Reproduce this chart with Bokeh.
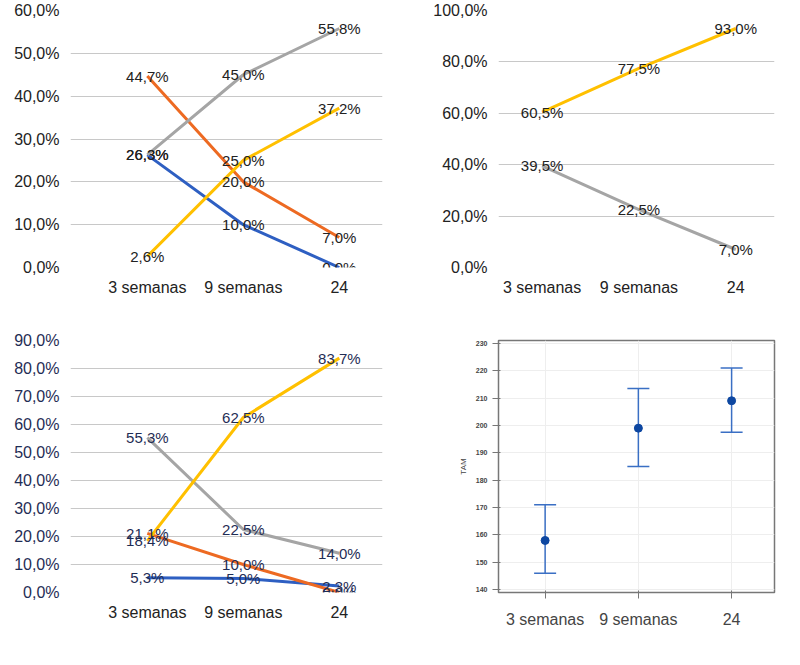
from bokeh.plotting import figure
from bokeh.layouts import gridplot
from bokeh.models import Range1d, FixedTicker, NumeralTickFormatter, Label, Whisker, ColumnDataSource, TeeHead
from bokeh.embed import file_html
from bokeh.resources import INLINE
from bokeh.core.properties import value

cats = ["3 semanas", "9 semanas", "24"]
a_blue = [26.3, 10.0, 0.0]
a_orange = [44.7, 20.0, 7.0]
a_gray = [26.3, 45.0, 55.8]
a_yellow = [2.6, 25.0, 37.2]
b_yellow = [60.5, 77.5, 93.0]
b_gray = [39.5, 22.5, 7.0]
c_blue = [5.3, 5.0, 2.3]
c_orange = [21.1, 10.0, 0.0]
c_gray = [55.3, 22.5, 14.0]
c_yellow = [18.4, 62.5, 83.7]
d_mean = [158, 199, 209]
d_low = [146, 185, 197.5]
d_high = [171, 213.5, 221]

BLUE, ORANGE, GRAY, YELLOW = "#2e5fc2", "#ed6a22", "#a5a5a5", "#ffc000"
FONT = "Liberation Sans"
xs = [0, 1, 2]

def fmt(v):
    return ("%.1f" % v).replace(".", ",") + "%"

def line_panel(series, ymax, letter, txtcol, xr, bl):
    p = figure(width=392, height=325, output_backend="svg", toolbar_location=None,
               x_range=Range1d(*xr), y_range=Range1d(0, ymax),
               min_border_left=bl, min_border_right=10, min_border_top=10, min_border_bottom=58)
    p.outline_line_color = None
    p.xgrid.grid_line_color = None
    p.ygrid.grid_line_color = "#c8c8c8"
    p.yaxis.ticker = FixedTicker(ticks=list(range(0, ymax + 1, 10 if ymax <= 90 else 20)))
    p.yaxis.major_label_overrides = {t: fmt(t) for t in range(0, ymax + 1, 10)}
    p.xaxis.ticker = FixedTicker(ticks=xs)
    p.xaxis.major_label_overrides = {i: c for i, c in enumerate(cats)}
    for ax in (p.xaxis, p.yaxis):
        ax.axis_line_color = None
        ax.major_tick_line_color = None
        ax.minor_tick_line_color = None
        ax.major_label_text_font = FONT
        ax.major_label_text_font_size = "16px"
        ax.major_label_text_color = txtcol
    p.xaxis.major_label_text_color = "#222222"
    for vals, col in series:
        p.line(xs, vals, line_color=col, line_width=3)
    for vals, col in series:
        p.text(xs, vals, text=[fmt(v) for v in vals], text_align="center", text_baseline="middle",
               text_font=value(FONT), text_font_size="15px", text_color=txtcol)
    p.add_layout(Label(x=-bl + 2, y=0, x_units="screen", y_units="screen", text=letter,
                       text_font=FONT, text_font_style="bold", text_font_size="15px",
                       text_baseline="middle"))
    p.add_layout(Label(x=0, y=-48, x_units="data", y_units="screen", text="Semanas",
                       text_align="center", text_baseline="middle",
                       text_font=FONT, text_font_size="16px", text_color="#222222"))
    return p

pa = line_panel([(a_blue, BLUE), (a_orange, ORANGE), (a_gray, GRAY), (a_yellow, YELLOW)],
                60, "A", "#222222", (-0.8, 2.45), 70)
pb = line_panel([(b_yellow, YELLOW), (b_gray, GRAY)], 100, "B", "#222222", (-0.45, 2.4), 80)
pc = line_panel([(c_blue, BLUE), (c_orange, ORANGE), (c_gray, GRAY), (c_yellow, YELLOW)],
                90, "C", "#1f2d55", (-0.8, 2.45), 70)

pd_ = figure(width=392, height=325, output_backend="svg", toolbar_location=None,
             x_range=Range1d(-0.5, 2.46), y_range=Range1d(139, 231),
             min_border_left=106, min_border_right=5, min_border_top=15, min_border_bottom=45)
pd_.outline_line_color = "#777777"
pd_.outline_line_width = 1.5
pd_.grid.grid_line_color = "#eeeeee"
pd_.yaxis.ticker = FixedTicker(ticks=list(range(140, 231, 10)))
pd_.yaxis.major_label_text_font_size = "7px"
pd_.yaxis.major_label_text_font_style = "bold"
pd_.yaxis.axis_label = "TAM"
pd_.yaxis.axis_label_text_font_size = "8px"
pd_.yaxis.axis_label_text_font_style = "normal"
pd_.yaxis.axis_line_color = None
pd_.yaxis.major_tick_line_color = "#777777"
pd_.yaxis.minor_tick_line_color = None
pd_.xaxis.ticker = FixedTicker(ticks=xs)
pd_.xaxis.major_label_overrides = {i: c for i, c in enumerate(cats)}
pd_.xaxis.major_label_text_font = FONT
pd_.xaxis.major_label_text_font_size = "16px"
pd_.xaxis.major_label_standoff = 12
pd_.xaxis.axis_line_color = None
pd_.xaxis.major_tick_line_color = "#777777"
pd_.xaxis.minor_tick_line_color = None
src = ColumnDataSource(dict(x=xs, m=d_mean, lo=d_low, hi=d_high))
pd_.add_layout(Whisker(base="x", lower="lo", upper="hi", source=src, line_color="#3a6fc4", line_width=1.5,
                       upper_head=TeeHead(size=22, line_color="#3a6fc4", line_width=1.5),
                       lower_head=TeeHead(size=22, line_color="#3a6fc4", line_width=1.5)))
pd_.scatter("x", "m", source=src, size=8, color="#0d47a1")
pd_.add_layout(Label(x=-40, y=-20, x_units="screen", y_units="screen", text="D",
                     text_font=FONT, text_font_style="bold", text_font_size="15px"))
pd_.add_layout(Label(x=0, y=-38, x_units="data", y_units="screen", text="Semanas",
                     text_align="center", text_baseline="middle",
                     text_font=FONT, text_font_size="16px"))

grid = gridplot([[pa, pb], [pc, pd_]], toolbar_location=None)
open("out.html", "w").write(file_html(grid, INLINE))
